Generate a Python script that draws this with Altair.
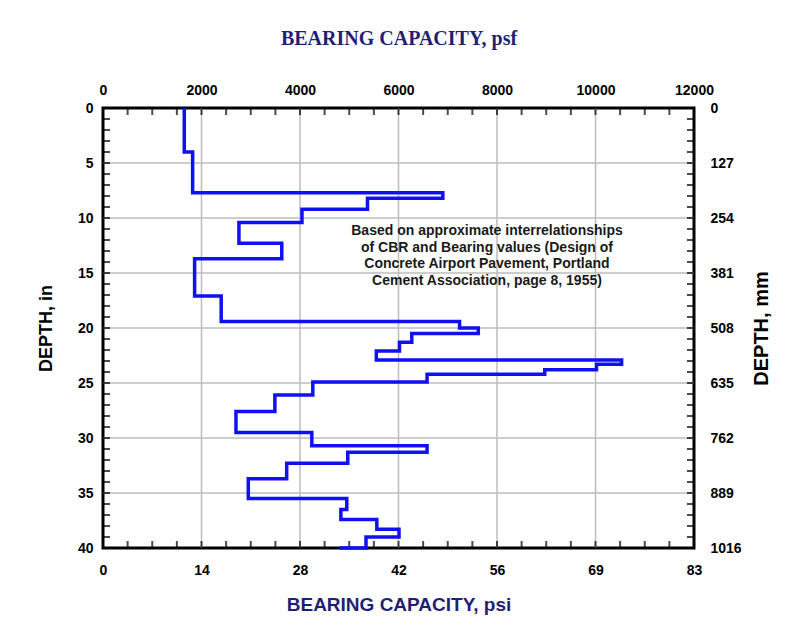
import altair as alt
import pandas as pd

# ---------------- data ----------------
# top depth (in) of each layer and its bearing capacity (psf)
depth_top = [0, 4.0, 7.7, 8.2, 9.2, 10.4, 12.3, 13.7, 17.1, 19.4, 20.0, 20.5,
             21.3, 22.1, 22.9, 23.3, 23.8, 24.2, 24.9, 26.1, 27.6, 29.5, 30.7,
             31.3, 32.3, 33.7, 35.5, 36.5, 37.4, 38.3, 39.0]
bearing_psf = [1650, 1820, 6900, 5370, 4040, 2760, 3630, 1860, 2400, 7240, 7620,
               6270, 6020, 5550, 10530, 10020, 8970, 6580, 4260, 3490, 2700, 4240,
               6580, 4970, 3730, 2950, 4950, 4830, 5560, 6010, 5340]
max_depth = 40
end_psf = 4800

psf_ticks = [0, 2000, 4000, 6000, 8000, 10000, 12000]
psf_labels = ["0", "2000", "4000", "6000", "8000", "10000", "12000"]
psi_labels = ["0", "14", "28", "42", "56", "69", "83"]
depth_ticks = [0, 5, 10, 15, 20, 25, 30, 35, 40]
depth_labels = ["0", "5", "10", "15", "20", "25", "30", "35", "40"]
mm_labels = ["0", "127", "254", "381", "508", "635", "762", "889", "1016"]
minor_x = list(range(0, 12001, 500))
minor_y = list(range(0, 41, 1))

note_lines = ["Based on approximate interrelationships",
              "of CBR and Bearing values (Design of",
              "Concrete Airport Pavement, Portland",
              "Cement Association, page 8, 1955)"]

# ---------------- build step-line vertices ----------------
rows = []
for i, (t, v) in enumerate(zip(depth_top, bearing_psf)):
    b = depth_top[i + 1] if i + 1 < len(depth_top) else max_depth
    rows.append({"psf": v, "depth": t})
    rows.append({"psf": v, "depth": b})
rows.append({"psf": end_psf, "depth": max_depth})
for k, r in enumerate(rows):
    r["order"] = k
df = pd.DataFrame(rows)

gx = pd.DataFrame({"psf": psf_ticks[1:-1]})
gy = pd.DataFrame({"depth": depth_ticks[1:-1]})
tx = pd.DataFrame({"psf": minor_x})
ty = pd.DataFrame({"depth": minor_y})


def label_expr(ticks, labels):
    t = "[" + ",".join(str(v) for v in ticks) + "]"
    l = "[" + ",".join("'%s'" % s for s in labels) + "]"
    return "indexof(%s, datum.value) < 0 ? '' : %s[indexof(%s, datum.value)]" % (t, l, t)


NAVY = "#1f1f73"
FONT = "Liberation Sans"
GRID = "#bcbcbc"
W, H = 591, 440

xs = alt.Scale(domain=[0, 12000], nice=False, zero=False)
ys = alt.Scale(domain=[0, 40], reverse=True, nice=False, zero=False)

common = dict(labelFont=FONT, labelFontSize=14, labelFontWeight="bold",
              labelColor="black", labelFlush=False, labelOverlap=False,
              labelBound=False, ticks=False, domain=False, grid=False)

# grid lines through the shared scales
grid_v = alt.Chart(gx).mark_rule(color=GRID, strokeWidth=1.5).encode(
    x=alt.X("psf:Q", scale=xs, axis=None))
grid_h = alt.Chart(gy).mark_rule(color=GRID, strokeWidth=1.5).encode(
    y=alt.Y("depth:Q", scale=ys, axis=None))

# inward tick marks on the four frame edges
TL = 7
tk = dict(color="black", thickness=2, size=TL)
ticks_top = alt.Chart(tx).mark_tick(orient="vertical", **tk).encode(
    x=alt.X("psf:Q", scale=xs, axis=None), y=alt.value(TL / 2))
ticks_bot = alt.Chart(tx).mark_tick(orient="vertical", **tk).encode(
    x=alt.X("psf:Q", scale=xs, axis=None), y=alt.value(H - TL / 2))
ticks_left = alt.Chart(ty).mark_tick(orient="horizontal", **tk).encode(
    y=alt.Y("depth:Q", scale=ys, axis=None), x=alt.value(TL / 2))
ticks_right = alt.Chart(ty).mark_tick(orient="horizontal", **tk).encode(
    y=alt.Y("depth:Q", scale=ys, axis=None), x=alt.value(W - TL / 2))

base = alt.Chart(df)

# main line + top/left axes
main = base.mark_line(color="#1010f2", strokeWidth=3.5, strokeJoin="miter").encode(
    x=alt.X("psf:Q", scale=xs, axis=alt.Axis(
        orient="top", values=psf_ticks, labelExpr=label_expr(psf_ticks, psf_labels),
        title="BEARING CAPACITY, psf", titleFont="Liberation Serif",
        titleFontSize=20, titleFontWeight="bold", titleColor=NAVY,
        titlePadding=35, labelPadding=11, **common)),
    y=alt.Y("depth:Q", scale=ys, axis=alt.Axis(
        orient="left", values=depth_ticks, labelExpr=label_expr(depth_ticks, depth_labels),
        title="DEPTH, in", titleFont=FONT, titleFontSize=18,
        titleFontWeight="bold", titleColor="black",
        titlePadding=22, labelPadding=10, **common)),
    order="order:Q",
)

# bottom psi / right mm axes
second = base.mark_point(opacity=0).encode(
    x=alt.X("psf:Q", scale=xs, axis=alt.Axis(
        orient="bottom", values=psf_ticks, labelExpr=label_expr(psf_ticks, psi_labels),
        title="BEARING CAPACITY, psi", titleFont=FONT, titleFontSize=19,
        titleFontWeight="bold", titleColor=NAVY,
        titlePadding=18, labelPadding=15, **common)),
    y=alt.Y("depth:Q", scale=ys, axis=alt.Axis(
        orient="right", values=depth_ticks, labelExpr=label_expr(depth_ticks, mm_labels),
        title="DEPTH, mm", titleFont=FONT, titleFontSize=20,
        titleFontWeight="bold", titleColor="black", titleAngle=270,
        titleBaseline="top",
        titlePadding=10, labelPadding=16, **common)),
)

note = alt.Chart(pd.DataFrame({"k": [0]})).mark_text(
    text=note_lines, align="center", baseline="top", font=FONT,
    fontSize=14, fontWeight="bold", color="#1a1a1a", lineHeight=16.7,
).encode(x=alt.value(384), y=alt.value(116))

chart = alt.layer(
    grid_v, grid_h, ticks_top, ticks_bot, ticks_left, ticks_right,
    second, main, note
).resolve_axis(
    x="independent", y="independent"
).properties(
    width=W, height=H,
    autosize=alt.AutoSizeParams(type="none"),
    padding={"left": 95, "top": 100, "right": 92, "bottom": 76},
    background="white",
).configure_view(stroke="black", strokeWidth=3)

chart.save("out.html", embed_options={"renderer": "svg", "actions": False})
